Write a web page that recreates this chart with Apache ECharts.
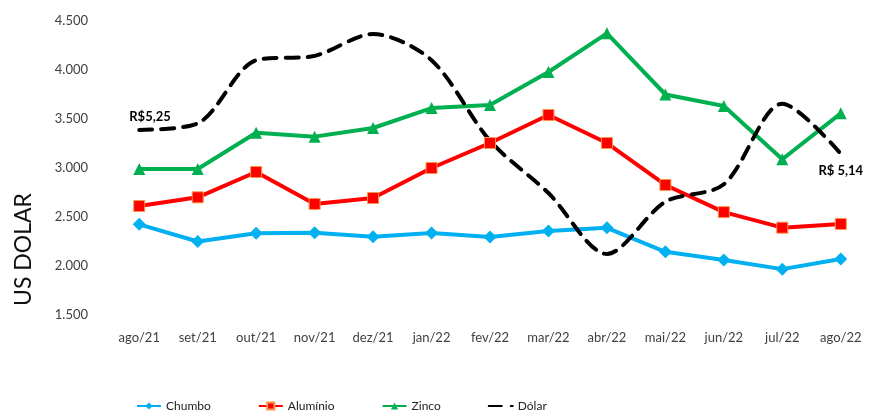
<!DOCTYPE html>
<html>
<head>
<meta charset="utf-8">
<script src="https://cdn.jsdelivr.net/npm/echarts@6/dist/echarts.min.js"></script>
<style>
html,body{margin:0;padding:0;background:#fff;}
#c{width:879px;height:416px;}
</style>
</head>
<body>
<div id="c"></div>
<script>
const categories = ['ago/21','set/21','out/21','nov/21','dez/21','jan/22','fev/22','mar/22','abr/22','mai/22','jun/22','jul/22','ago/22'];
const chumbo   = [2425, 2250, 2335, 2340, 2298, 2337, 2296, 2357, 2390, 2145, 2061, 1968, 2071];
const aluminio = [2612, 2701, 2959, 2633, 2694, 3000, 3255, 3541, 3255, 2827, 2550, 2391, 2429];
const zinco    = [2990, 2990, 3360, 3320, 3408, 3612, 3643, 3980, 4374, 3750, 3633, 3089, 3558];
const dolar    = [5.25, 5.28, 5.57, 5.59, 5.69, 5.57, 5.20, 4.96, 4.68, 4.92, 5.00, 5.37, 5.14];
const dolarLabels = ['R$5,25', '', '', '', '', '', '', '', '', '', '', '', 'R$ 5,14'];
const yTicks = [1500, 2000, 2500, 3000, 3500, 4000, 4500];

const chart = echarts.init(document.getElementById('c'), null, {renderer:'canvas'});
const dolarData = dolar.map((v, i) => {
  if (!dolarLabels[i]) return v;
  return {
    value: v,
    label: i === 0
      ? {show: true, formatter: dolarLabels[i], position: [-9, -19]}
      : {show: true, formatter: dolarLabels[i], position: 'bottom', distance: 9}
  };
});

const fmt = v => String(v).replace(/\B(?=(\d{3})+(?!\d))/g, '.');

chart.setOption({
  animation: false,
  grid: {left: 110, right: 9, top: 21, bottom: 101},
  xAxis: {
    type: 'category',
    data: categories,
    boundaryGap: true,
    axisLine: {show: false},
    axisTick: {show: false},
    axisLabel: {margin: 16, color: '#404040', fontFamily: 'Lato', fontSize: 13}
  },
  yAxis: [{
    type: 'value',
    min: yTicks[0], max: yTicks[yTicks.length-1], interval: 500,
    axisLine: {show: false},
    axisTick: {show: false},
    splitLine: {show: false},
    axisLabel: {margin: 22, color: '#404040', fontFamily: 'Lato', fontSize: 13, formatter: fmt}
  }, {
    type: 'value', show: false, min: 4.4, max: 5.75,
    splitLine: {show: false}
  }],
  legend: {
    left: 131, top: 395,
    itemGap: 47, itemWidth: 24, itemHeight: 9,
    textStyle: {fontFamily: 'Lato', fontSize: 12, color: '#222'},
    data: ['Chumbo','Alumínio','Zinco','Dólar']
  },
  graphic: [{
    type: 'text', left: 12, top: 193, rotation: Math.PI/2,
    style: {text: 'US DOLAR', font: '23px Lato', fill: '#111'}
  }],
  series: [{
    name: 'Chumbo', type: 'line', data: chumbo,
    symbol: 'diamond', symbolSize: 13,
    lineStyle: {width: 4, color: '#00B0F0'},
    itemStyle: {color: '#00B0F0'}
  }, {
    name: 'Alumínio', type: 'line', data: aluminio,
    symbol: 'rect', symbolSize: 11,
    lineStyle: {width: 4, color: '#FF0000'},
    itemStyle: {color: '#FF0000', borderColor: '#F79646', borderWidth: 1}
  }, {
    name: 'Zinco', type: 'line', data: zinco,
    symbol: 'triangle', symbolSize: 12,
    lineStyle: {width: 4, color: '#00B050'},
    itemStyle: {color: '#00B050'}
  }, {
    name: 'Dólar', type: 'line', yAxisIndex: 1, data: dolarData,
    symbol: 'circle', symbolSize: 2, showSymbol: true,
    smooth: 0.3,
    lineStyle: {width: 4, color: '#000', type: [13, 9], cap: 'round'},
    itemStyle: {color: 'rgba(0,0,0,0)', borderWidth: 0},
    label: {show: false, color: '#000', fontWeight: 'bold', fontFamily: 'Lato', fontSize: 13},
    labelLayout: {hideOverlap: false},
    z: 3
  }]
});
</script>
</body>
</html>
